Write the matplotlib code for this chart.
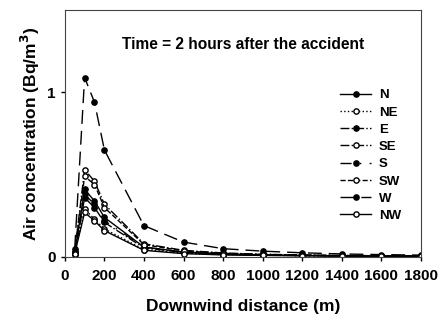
import numpy as np
import matplotlib.pyplot as plt

plt.rcParams['font.family'] = ['Liberation Sans', 'DejaVu Sans']
plt.rcParams['font.weight'] = 'bold'

# data
distance = [50, 100, 150, 200, 400, 600, 800, 1000, 1200, 1400, 1600, 1800]
N  = [0.02, 0.41, 0.34, 0.24, 0.06, 0.030, 0.018, 0.012, 0.009, 0.007, 0.006, 0.005]
NE = [0.02, 0.29, 0.23, 0.17, 0.045, 0.022, 0.014, 0.010, 0.008, 0.006, 0.005, 0.004]
E  = [0.02, 0.36, 0.30, 0.21, 0.055, 0.027, 0.016, 0.011, 0.008, 0.006, 0.005, 0.004]
SE = [0.03, 0.53, 0.46, 0.32, 0.08, 0.040, 0.024, 0.016, 0.012, 0.009, 0.007, 0.006]
S  = [0.02, 0.38, 0.32, 0.22, 0.06, 0.028, 0.017, 0.011, 0.008, 0.006, 0.005, 0.004]
SW = [0.03, 0.49, 0.44, 0.30, 0.075, 0.036, 0.022, 0.015, 0.011, 0.008, 0.007, 0.006]
W  = [0.05, 1.09, 0.94, 0.65, 0.19, 0.09, 0.05, 0.035, 0.025, 0.018, 0.014, 0.011]
NW = [0.02, 0.27, 0.22, 0.16, 0.04, 0.020, 0.012, 0.009, 0.007, 0.005, 0.004, 0.004]

series = [
    ("N", N, '-', 'k'),
    ("NE", NE, ':', 'w'),
    ("E", E, '-.', 'k'),
    ("SE", SE, '-.', 'w'),
    ("S", S, (0, (8, 6, 1, 6)), 'k'),
    ("SW", SW, '--', 'w'),
    ("W", W, (0, (10, 5)), 'k'),
    ("NW", NW, '-', 'w'),
]

fig = plt.figure(figsize=(4.44, 3.16), dpi=100)
ax = fig.add_axes([0.146, 0.187, 0.802, 0.781])

for name, vals, ls, fc in series:
    ax.plot(distance, vals, linestyle=ls, color='k', lw=1.0,
            marker='o', markersize=3.8, markerfacecolor=fc,
            markeredgecolor='k', markeredgewidth=1.0, label=name)

ax.set_xlim(0, 1800)
ax.set_ylim(0, 1.5)
ax.set_xticks(np.arange(0, 1801, 200))
ax.set_yticks([0, 1])
ax.tick_params(labelsize=11, direction='out', length=3, width=1)
ax.tick_params(axis='x', pad=6)
for lbl in ax.get_xticklabels() + ax.get_yticklabels():
    lbl.set_fontweight('bold')
for sp in ax.spines.values():
    sp.set_color('#444444')

ax.set_xlabel("Downwind distance (m)", fontsize=12.5, fontweight='bold', labelpad=11)
ax.set_ylabel("Air concentration (Bq/m$^\\mathbf{3}$)", fontsize=12.5, fontweight='bold')
ax.text(0.5, 0.86, "Time = 2 hours after the accident", transform=ax.transAxes,
        ha='center', va='center', fontsize=11.2, fontweight='bold')

leg = ax.legend(loc='upper left', bbox_to_anchor=(0.774, 0.68), frameon=False,
                fontsize=9.5, handlelength=2.3, labelspacing=0.38, handletextpad=0.6,
                borderaxespad=0, borderpad=0)
for t in leg.get_texts():
    t.set_fontweight('bold')

fig.savefig("out.png", dpi=100)
